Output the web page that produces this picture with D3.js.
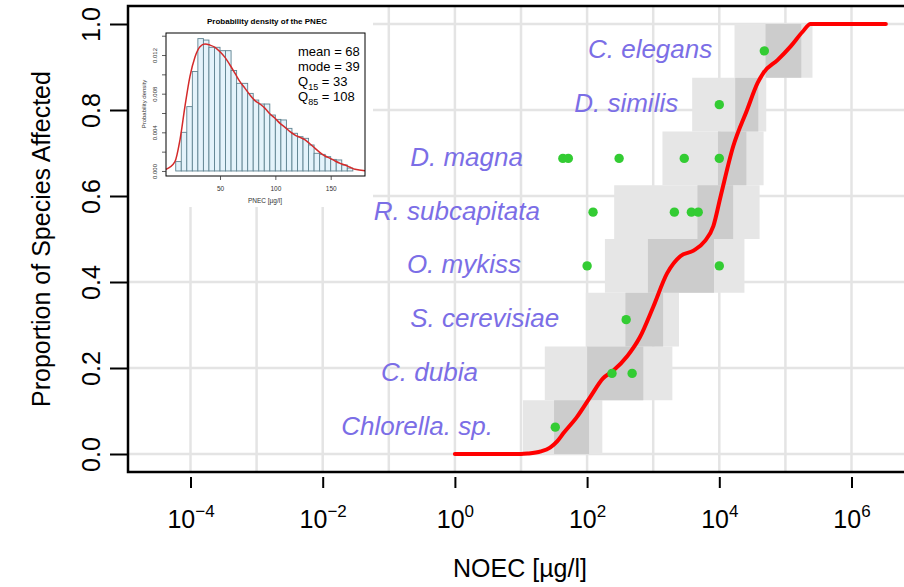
<!DOCTYPE html>
<html>
<head>
<meta charset="utf-8">
<script src="https://cdn.jsdelivr.net/npm/d3@7"></script>
<style>
  html, body { margin: 0; padding: 0; background: #ffffff; }
  svg { display: block; font-family: "Liberation Sans", Arial, Helvetica, sans-serif; }
</style>
</head>
<body>
<svg id="chart" width="904" height="587"></svg>
<script>
// ---- Species sensitivity distribution (NOEC, µg/l) ----
const species = ["Chlorella. sp.", "C. dubia", "S. cerevisiae", "O. mykiss",
                 "R. subcapitata", "D. magna", "D. similis", "C. elegans"];

// observed NOEC values for each species (µg/l)
const noecValues = [
  [33],
  [238, 480],
  [390],
  [100, 10000],
  [123, 2090, 3780, 4800],
  [43, 52, 305, 2950, 10000],
  [10000],
  [48000]
];

// uncertainty bands per species (µg/l): wide band and narrow band
const outerLow  = [10.7, 22.9, 95.5, 186, 257, 1380, 3890, 17000];
const outerHigh = [170, 1950, 2455, 24000, 40700, 46800, 51300, 257000];
const innerLow  = [31.6, 100, 380, 832, 4677, 9550, 17400, 50100];
const innerHigh = [107, 708, 1413, 8318, 16200, 25700, 38900, 174000];

// concentration at which each species name ends
const labelEnd = [3.76, 2.23, 37.7, 10, 19.4, 10.7, 2390, 7830];

// fitted cumulative distribution
const curveConc = [1, 10, 12.6, 20, 27.5, 35.5, 43.7, 70.8, 112, 174, 245, 407, 631,
                   1000, 1620, 2570, 4070, 6030, 8130, 10500, 16200, 26300, 38000,
                   46800, 75900, 120000, 182000, 240000, 3310000];
const curveProp = [0, 0, 0.001, 0.006, 0.015, 0.03, 0.048, 0.087, 0.133, 0.176, 0.193,
                   0.228, 0.272, 0.342, 0.420, 0.460, 0.473, 0.495, 0.53, 0.60, 0.715,
                   0.800, 0.863, 0.887, 0.916, 0.948, 0.982, 1.0, 1.0];

// axis ticks
const gridDecades = [1e-4, 1e-3, 1e-2, 1e-1, 1, 1e1, 1e2, 1e3, 1e4, 1e5, 1e6];
const xTickValues = [1e-4, 1e-2, 1, 1e2, 1e4, 1e6];
const xTickExponents = ["\u22124", "\u22122", "0", "2", "4", "6"];
const yTickValues = [0, 0.2, 0.4, 0.6, 0.8, 1.0];

// ---- PNEC distribution (inset) ----
const binLeft = [10, 15, 20, 25, 30, 35, 40, 45, 50, 55, 60, 65, 70, 75, 80, 85, 90, 95,
                 100, 105, 110, 115, 120, 125, 130, 135, 140, 145, 150, 155, 160, 165];
const binDensity = [0.00097, 0.0040, 0.00666, 0.0103, 0.0137, 0.01355, 0.0128, 0.0128,
                    0.01245, 0.01245, 0.0104, 0.00907, 0.00907, 0.00803, 0.00734, 0.00693,
                    0.00693, 0.00579, 0.00534, 0.00528, 0.00441, 0.0039, 0.00355, 0.00338,
                    0.00269, 0.00183, 0.00172, 0.00148, 0.0012, 0.00114, 0.00062, 0.0003];
const densX = [1.2, 9.3, 13.8, 18.3, 22.8, 27.4, 31.9, 36.4, 40.9, 45.5, 50, 54.5, 59, 63.6,
               68, 72.6, 77.1, 81.6, 86.1, 90.7, 95.2, 99.7, 104.2, 108.8, 113.3, 117.8,
               122.3, 126.9, 131.4, 135.9, 140.4, 144.9, 149.5, 154, 158.5, 163, 167.6, 172.1, 181];
const densY = [0.00017, 0.00097, 0.0032, 0.00666, 0.00976, 0.0118, 0.01286, 0.01314, 0.01303,
               0.0128, 0.01234, 0.01176, 0.01097, 0.0101, 0.00924, 0.00855, 0.00786, 0.00728,
               0.00693, 0.00648, 0.0059, 0.00545, 0.00493, 0.00452, 0.00407, 0.00372, 0.00348,
               0.00321, 0.00279, 0.00234, 0.0019, 0.00155, 0.00131, 0.00103, 0.00079, 0.00062,
               0.00038, 0.00017, 0.00002];
const insetYTicks = [0, 0.002, 0.004, 0.006, 0.008, 0.010, 0.012, 0.014];
const insetYLabelled = [0, 0.004, 0.008, 0.012];
const insetXTicks = [50, 100, 150];
const statNames = ["mean", "mode", "Q", "Q"];
const statSubs = ["", "", "15", "85"];
const statValues = [68, 39, 33, 108];

// ---- drawing ----
const svg = d3.select("#chart");
const frame = { left: 128, top: 6, right: 912, bottom: 472 };

const x = d3.scaleLog().domain([1e-4, 1e6]).range([190.5, 851.5]);
const y = d3.scaleLinear().domain([0, 1]).range([454, 24]);
const nSp = species.length;

// grid
const grid = svg.append("g");
grid.selectAll("line.v").data(gridDecades).join("line")
  .attr("x1", d => x(d)).attr("x2", d => x(d))
  .attr("y1", frame.top).attr("y2", frame.bottom)
  .attr("stroke", "#e4e4e4").attr("stroke-width", 2.5);
grid.selectAll("line.h").data(yTickValues).join("line")
  .attr("x1", frame.left).attr("x2", frame.right)
  .attr("y1", d => y(d)).attr("y2", d => y(d))
  .attr("stroke", "#e4e4e4").attr("stroke-width", 2.5);

// uncertainty bands, one step per species
const bands = svg.append("g");
bands.selectAll("rect.outer").data(species).join("rect")
  .attr("x", (d, i) => x(outerLow[i]))
  .attr("width", (d, i) => x(outerHigh[i]) - x(outerLow[i]))
  .attr("y", (d, i) => y((i + 1) / nSp))
  .attr("height", (d, i) => y(i / nSp) - y((i + 1) / nSp))
  .attr("fill", "#e6e6e6");
bands.selectAll("rect.inner").data(species).join("rect")
  .attr("x", (d, i) => x(innerLow[i]))
  .attr("width", (d, i) => x(innerHigh[i]) - x(innerLow[i]))
  .attr("y", (d, i) => y((i + 1) / nSp))
  .attr("height", (d, i) => y(i / nSp) - y((i + 1) / nSp))
  .attr("fill", "#cccccc");

// fitted curve
const curvePts = curveConc.map((c, i) => [c, curveProp[i]]);
svg.append("path")
  .datum(curvePts)
  .attr("d", d3.line().x(d => x(d[0])).y(d => y(d[1])).curve(d3.curveMonotoneX))
  .attr("fill", "none").attr("stroke", "#ff0000").attr("stroke-width", 4)
  .attr("stroke-linejoin", "round").attr("stroke-linecap", "round");

// observations
const obs = [];
noecValues.forEach((vals, i) => vals.forEach(v => obs.push({ v, level: (i + 0.5) / nSp })));
svg.append("g").selectAll("circle").data(obs).join("circle")
  .attr("cx", d => x(d.v)).attr("cy", d => y(d.level)).attr("r", 4.7)
  .attr("fill", "#33cc33");

// species names
svg.append("g").selectAll("text").data(species).join("text")
  .attr("x", (d, i) => x(labelEnd[i]))
  .attr("y", (d, i) => y((i + 0.5) / nSp) + 7.5)
  .attr("text-anchor", "end")
  .attr("font-style", "italic")
  .attr("font-size", 26)
  .attr("fill", "#7b6ee6")
  .text(d => d);

// y axis
const yAxis = svg.append("g")
  .attr("transform", `translate(${frame.left},0)`)
  .call(d3.axisLeft(y).tickValues(yTickValues).tickSize(18).tickFormat(d3.format(".1f")));
yAxis.select(".domain").remove();
yAxis.selectAll(".tick line").attr("stroke", "#000").attr("stroke-width", 2);
yAxis.selectAll(".tick text")
  .attr("x", null).attr("dy", null)
  .attr("transform", "translate(-28,0) rotate(-90)")
  .attr("text-anchor", "middle")
  .attr("font-size", 25).attr("fill", "#000");

// x axis
const xAxis = svg.append("g")
  .attr("transform", "translate(0,477)")
  .call(d3.axisBottom(x).tickValues(xTickValues).tickSize(11).tickFormat(""));
xAxis.select(".domain").remove();
xAxis.selectAll(".tick line").attr("stroke", "#000").attr("stroke-width", 2);
xAxis.selectAll(".tick text").remove();
xAxis.selectAll(".tick").each(function (d, i) {
  const t = d3.select(this).append("text")
    .attr("y", 51).attr("text-anchor", "middle")
    .attr("font-size", 25).attr("fill", "#000");
  t.append("tspan").text("10");
  t.append("tspan").attr("dy", -11).attr("font-size", 17).text(xTickExponents[i]);
});

// axis titles
svg.append("text")
  .attr("x", (frame.left + frame.right) / 2).attr("y", 577)
  .attr("text-anchor", "middle").attr("font-size", 25)
  .text("NOEC [µg/l]");
svg.append("text")
  .attr("transform", `translate(50,${(frame.top + frame.bottom) / 2}) rotate(-90)`)
  .attr("text-anchor", "middle").attr("font-size", 25)
  .text("Proportion of Species Affected");

// ---- inset: probability density of the PNEC ----
const inset = svg.append("g");
inset.append("rect").attr("x", 129).attr("y", 7).attr("width", 244).attr("height", 200)
  .attr("fill", "#ffffff");

const ix = d3.scaleLinear().domain([1.2, 181]).range([166, 365]);
const iy = d3.scaleLinear().domain([-0.00052, 0.01428]).range([176, 33]);

inset.append("g").selectAll("rect").data(binDensity).join("rect")
  .attr("x", (d, i) => ix(binLeft[i]))
  .attr("width", (d, i) => ix(binLeft[i] + 5) - ix(binLeft[i]))
  .attr("y", d => iy(d))
  .attr("height", d => iy(0) - iy(d))
  .attr("fill", "#e4f3fb").attr("stroke", "#5f8391").attr("stroke-width", 0.9);

inset.append("path")
  .datum(densX.map((v, i) => [v, densY[i]]))
  .attr("d", d3.line().x(d => ix(d[0])).y(d => iy(d[1])).curve(d3.curveMonotoneX))
  .attr("fill", "none").attr("stroke", "#d42a2a").attr("stroke-width", 1.5);

inset.append("rect").attr("x", 166).attr("y", 33).attr("width", 199).attr("height", 143)
  .attr("fill", "none").attr("stroke", "#000").attr("stroke-width", 1);

const iyAxis = inset.append("g").attr("transform", "translate(166,0)")
  .call(d3.axisLeft(iy).tickValues(insetYTicks).tickSize(4)
    .tickFormat(d => insetYLabelled.some(v => Math.abs(v - d) < 1e-9) ? d3.format(".3f")(d) : ""));
iyAxis.select(".domain").remove();
iyAxis.selectAll(".tick line").attr("stroke", "#333").attr("stroke-width", 0.8);
iyAxis.selectAll(".tick text")
  .attr("x", null).attr("dy", null)
  .attr("transform", "translate(-9,0) rotate(-90)")
  .attr("text-anchor", "middle").attr("font-size", 6).attr("fill", "#333");

const ixAxis = inset.append("g").attr("transform", "translate(0,176)")
  .call(d3.axisBottom(ix).tickValues(insetXTicks).tickSize(4));
ixAxis.select(".domain").remove();
ixAxis.selectAll(".tick line").attr("stroke", "#333").attr("stroke-width", 0.8);
ixAxis.selectAll(".tick text").attr("y", null).attr("dy", null)
  .attr("transform", "translate(0,15)")
  .attr("font-size", 6.5).attr("fill", "#333");

inset.append("text").attr("x", 267).attr("y", 24).attr("text-anchor", "middle")
  .attr("font-size", 8).attr("font-weight", "bold").text("Probability density of the PNEC");
inset.append("text").attr("x", 265).attr("y", 203).attr("text-anchor", "middle")
  .attr("font-size", 6.5).attr("fill", "#333").text("PNEC [µg/l]");
inset.append("text")
  .attr("transform", "translate(146,104) rotate(-90)")
  .attr("text-anchor", "middle").attr("font-size", 6).attr("fill", "#333")
  .text("Probability density");

// summary statistics
const stats = inset.append("g");
statNames.forEach((name, i) => {
  const t = stats.append("text").attr("x", 298).attr("y", 56 + i * 15)
    .attr("font-size", 13).attr("fill", "#000");
  t.append("tspan").text(name);
  if (statSubs[i]) {
    t.append("tspan").attr("dy", 3.5).attr("font-size", 9).text(statSubs[i]);
    t.append("tspan").attr("dy", -3.5).text(" = " + statValues[i]);
  } else {
    t.append("tspan").text(" = " + statValues[i]);
  }
});

// plot frame
svg.append("path")
  .attr("d", `M${frame.right},${frame.top}H${frame.left}V${frame.bottom}H${frame.right}`)
  .attr("fill", "none").attr("stroke", "#000").attr("stroke-width", 2.5);
</script>
</body>
</html>
